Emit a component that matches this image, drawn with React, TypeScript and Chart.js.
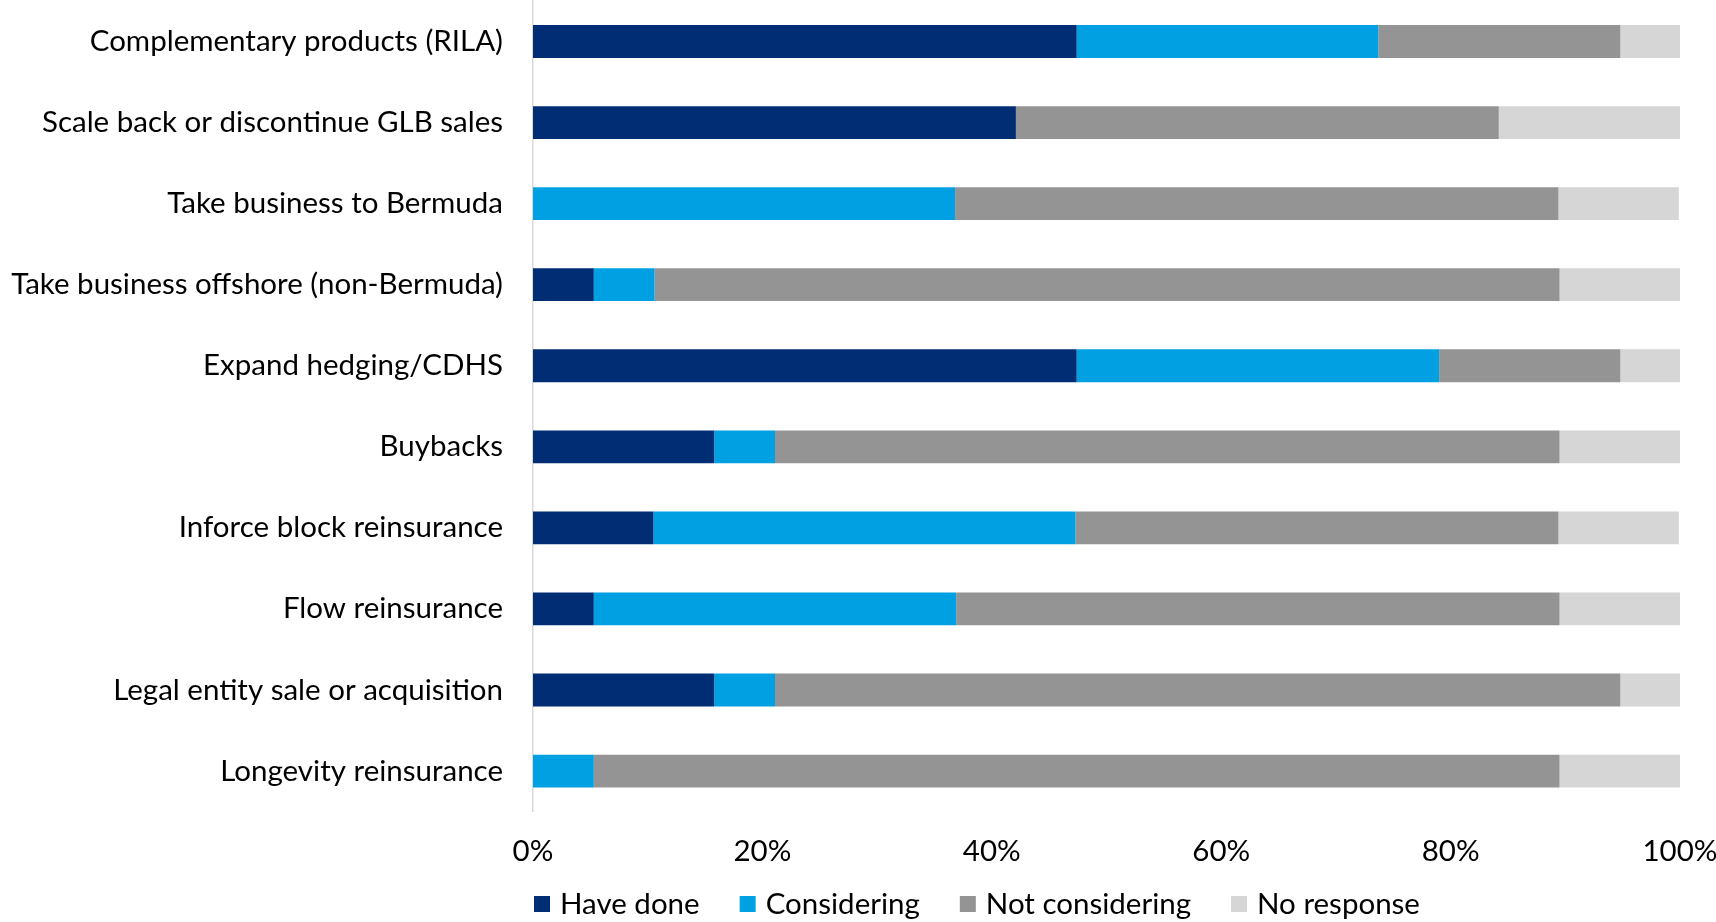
import React, { useEffect, useRef } from "react";
import { Chart, registerables } from "chart.js";

Chart.register(...registerables);

const categories = [
  "Complementary products (RILA)",
  "Scale back or discontinue GLB sales",
  "Take business to Bermuda",
  "Take business offshore (non-Bermuda)",
  "Expand hedging/CDHS",
  "Buybacks",
  "Inforce block reinsurance",
  "Flow reinsurance",
  "Legal entity sale or acquisition",
  "Longevity reinsurance",
];

const haveDone = [47.4, 42.1, 0, 5.3, 47.4, 15.8, 10.5, 5.3, 15.8, 0];
const considering = [26.3, 0, 36.8, 5.3, 31.6, 5.3, 36.8, 31.6, 5.3, 5.3];
const notConsidering = [21.1, 42.1, 52.6, 78.9, 15.8, 68.4, 42.1, 52.6, 73.7, 84.2];
const noResponse = [5.3, 15.8, 10.5, 10.5, 5.3, 10.5, 10.5, 10.5, 5.3, 10.5];

const xTicks = [0, 20, 40, 60, 80, 100];

const FONT = "Lato";
const FONT_SIZE = 29.5;

const legendPlugin = {
  id: "customLegend",
  afterDraw(chart: any) {
    const ctx = chart.ctx;
    const left = chart.chartArea.left;
    const y = chart.height - 18;
    ctx.save();
    ctx.font = `${FONT_SIZE}px ${FONT}`;
    ctx.textBaseline = "middle";
    ctx.textAlign = "left";
    let x = left + 1;
    chart.data.datasets.forEach((ds: any) => {
      ctx.fillStyle = ds.backgroundColor;
      ctx.fillRect(x, y - 8, 16, 16);
      x += 16 + 10;
      ctx.fillStyle = "#000000";
      ctx.fillText(ds.label, x, y);
      x += ctx.measureText(ds.label).width + 40;
    });
    ctx.restore();
  },
};

export default function App() {
  const ref = useRef<HTMLCanvasElement | null>(null);

  useEffect(() => {
    document.body.style.margin = "0";
    if (!ref.current) return;
    const chart = new Chart(ref.current, {
      type: "bar",
      data: {
        labels: categories,
        datasets: [
          { label: "Have done", data: haveDone, backgroundColor: "#002D74" },
          { label: "Considering", data: considering, backgroundColor: "#00A0E2" },
          { label: "Not considering", data: notConsidering, backgroundColor: "#949494" },
          { label: "No response", data: noResponse, backgroundColor: "#D6D6D6" },
        ],
      },
      options: {
        indexAxis: "y",
        responsive: false,
        animation: false,
        layout: { padding: { top: 1, left: 0, right: 36, bottom: 31 } },
        datasets: {
          bar: { categoryPercentage: 1, barPercentage: 0.405, borderWidth: 0 },
        },
        plugins: {
          legend: { display: false },
          tooltip: { enabled: false },
        },
        scales: {
          x: {
            stacked: true,
            min: 0,
            max: 100,
            grid: { display: false, drawTicks: false },
            border: { display: false },
            afterBuildTicks: (axis: any) => {
              axis.ticks = xTicks.map((v) => ({ value: v }));
            },
            afterFit: (axis: any) => {
              axis.paddingLeft = 0;
              axis.paddingRight = 0;
            },
            ticks: {
              padding: 22,
              maxRotation: 0,
              color: "#000000",
              font: { family: FONT, size: FONT_SIZE },
              callback: (v: any) => `${v}%`,
            },
          },
          y: {
            stacked: true,
            grid: { display: false, drawTicks: false },
            border: { display: true, color: "#D9D9D9", width: 1.5 },
            afterFit: (axis: any) => {
              axis.width = 533;
              axis.paddingTop = 0;
              axis.paddingBottom = 0;
            },
            ticks: {
              padding: 30,
              color: "#000000",
              font: { family: FONT, size: FONT_SIZE },
            },
          },
        },
      },
      plugins: [legendPlugin],
    });
    return () => chart.destroy();
  }, []);

  return (
    <div style={{ width: 1716, height: 922 }}>
      <canvas ref={ref} width={1716} height={922} />
    </div>
  );
}
